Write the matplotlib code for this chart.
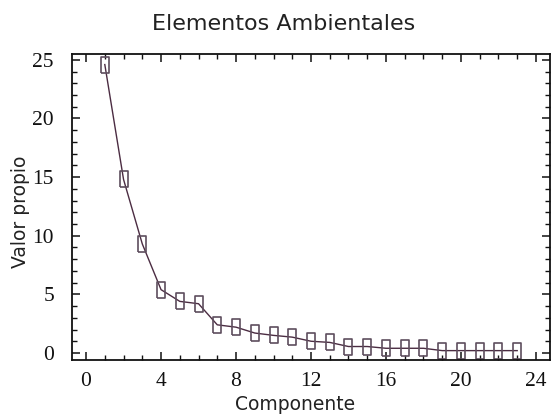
import matplotlib
matplotlib.use("Agg")
import matplotlib.pyplot as plt
from matplotlib.ticker import MultipleLocator

componentes = list(range(1, 24))
valores = [24.6, 14.8, 9.3, 5.4, 4.4, 4.2, 2.4, 2.2, 1.7, 1.5, 1.35, 1.0, 0.9,
           0.55, 0.55, 0.4, 0.4, 0.4, 0.2, 0.2, 0.2, 0.2, 0.2]
x_ticks = [0, 4, 8, 12, 16, 20, 24]
y_ticks = [0, 5, 10, 15, 20, 25]

fig = plt.figure(figsize=(5.58, 4.17), dpi=100)
ax = fig.add_axes([72/558, 1-360/417, (550-72)/558, (360-54)/417])

rect = [(-0.28, -0.5), (0.28, -0.5), (0.28, 0.5), (-0.28, 0.5), (-0.28, -0.5)]
ax.plot(componentes, valores, color='#4b2c42', linewidth=1.0,
        marker=rect, markersize=11.5, markerfacecolor='none',
        markeredgecolor='#5e4e5e', markeredgewidth=1.2)

ax.set_xlim(-0.75, 24.75)
ax.set_ylim(-0.6, 25.5)
ax.set_xticks(x_ticks)
ax.set_yticks(y_ticks)
ax.xaxis.set_minor_locator(MultipleLocator(1))
ax.yaxis.set_minor_locator(MultipleLocator(1))
ax.tick_params(which='both', direction='in', top=True, right=True, colors='#111111')
ax.tick_params(which='major', length=6, width=1.1)
ax.tick_params(which='minor', length=3.5, width=1.0)
ax.tick_params(axis='x', which='major', labelsize=15.5, pad=9)
ax.tick_params(axis='y', which='major', labelsize=15.5, pad=13)
for lab in ax.get_xticklabels() + ax.get_yticklabels():
    lab.set_family('Liberation Serif')
for s in ax.spines.values():
    s.set_linewidth(1.3)
    s.set_color('#111111')

fig.text(295/558, 1-405/417, 'Componente', fontsize=13.5, family='DejaVu Sans',
         ha='center', va='center', color='#222222')
fig.text(21/558, 1-212/417, 'Valor propio', fontsize=13.5, family='DejaVu Sans',
         ha='center', va='center', rotation=90, color='#222222')
fig.text(284/558, 1-24/417, 'Elementos Ambientales', fontsize=16, family='DejaVu Sans',
         ha='center', va='center', color='#222222')

fig.savefig('out.png', dpi=100)
